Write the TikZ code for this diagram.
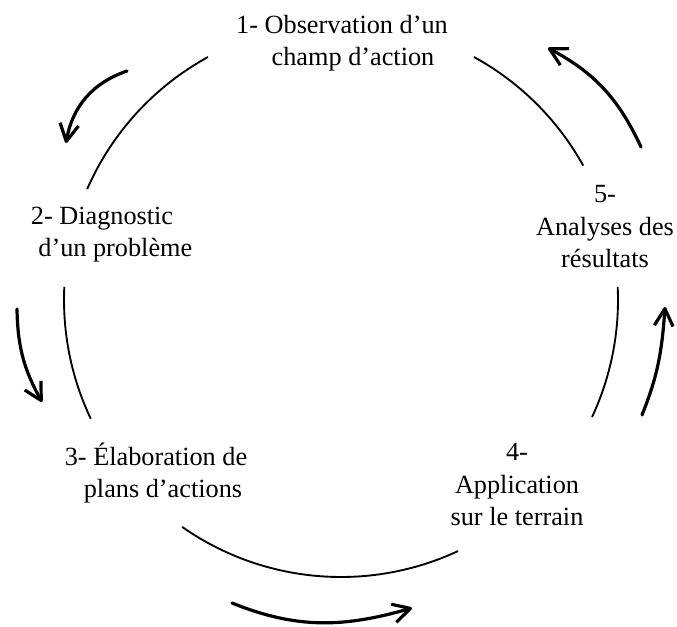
\documentclass[tikz,border=0pt]{standalone}
\usepackage{fontspec}
\setmainfont{Liberation Serif}
\usetikzlibrary{arrows.meta}
\begin{document}
\begin{tikzpicture}[x=0.75pt,y=0.75pt,
  lbl/.style={align=center,anchor=base,inner sep=0pt,font=\fontsize{19.7pt}{24.6pt}\selectfont},
  ring/.style={line width=1.4pt},
  cyc/.style={line width=2.4pt,line cap=round,-{Straight Barb[length=13pt,width=14pt,line join=round]}}]
\useasboundingbox (0,0) rectangle (677,627);
\coordinate (c) at (341,327);
% stage labels (anchor = baseline of the last line)
\node[lbl] (n1) at (342,561) {1- Observation d’un\\\hspace*{16.5pt}champ d’action};
\node[lbl] (n2) at (102,370) {2- Diagnostic\\\hspace*{20pt}d’un problème};
\node[lbl] (n3) at (156,129) {3- Élaboration de\\\hspace*{10.5pt}plans d’actions};
\node[lbl] (n4) at (517,101) {4-\\Application\\sur le terrain};
\node[lbl] (n5) at (605,359) {5-\\Analyses des\hspace*{16.5pt}\\résultats};
% ring segments
\draw[ring] ([shift={(118.7:277)}]c) arc[start angle=118.7,end angle=156.4,radius=277];
\draw[ring] ([shift={(177.3:277)}]c) arc[start angle=177.3,end angle=205.4,radius=277];
\draw[ring] ([shift={(-125:277)}]c) arc[start angle=-125,end angle=-65,radius=277];
\draw[ring] ([shift={(-25:277)}]c) arc[start angle=-25,end angle=2.7,radius=277];
\draw[ring] ([shift={(29:277)}]c) arc[start angle=29,end angle=61.3,radius=277];
% outer arrows
\coordinate (a1s) at (127,556); \coordinate (a1e) at (66,484);
\coordinate (a2s) at (17,318);  \coordinate (a2e) at (42,225);
\coordinate (a3s) at (232,24);  \coordinate (a3e) at (412,19);
\coordinate (a4s) at (642,212); \coordinate (a4e) at (665,320);
\coordinate (a5s) at (641,480); \coordinate (a5e) at (548,579);
\draw[cyc] (a1s) to[out=199,in=80] (a1e);
\draw[cyc] (a2s) to[out=-89,in=119] (a2e);
\draw[cyc] (a3s) to[out=-22,in=196] (a3e);
\draw[cyc] (a4s) to[out=68,in=266] (a4e);
\draw[cyc] (a5s) to[out=115,in=332] (a5e);
\end{tikzpicture}
\end{document}
